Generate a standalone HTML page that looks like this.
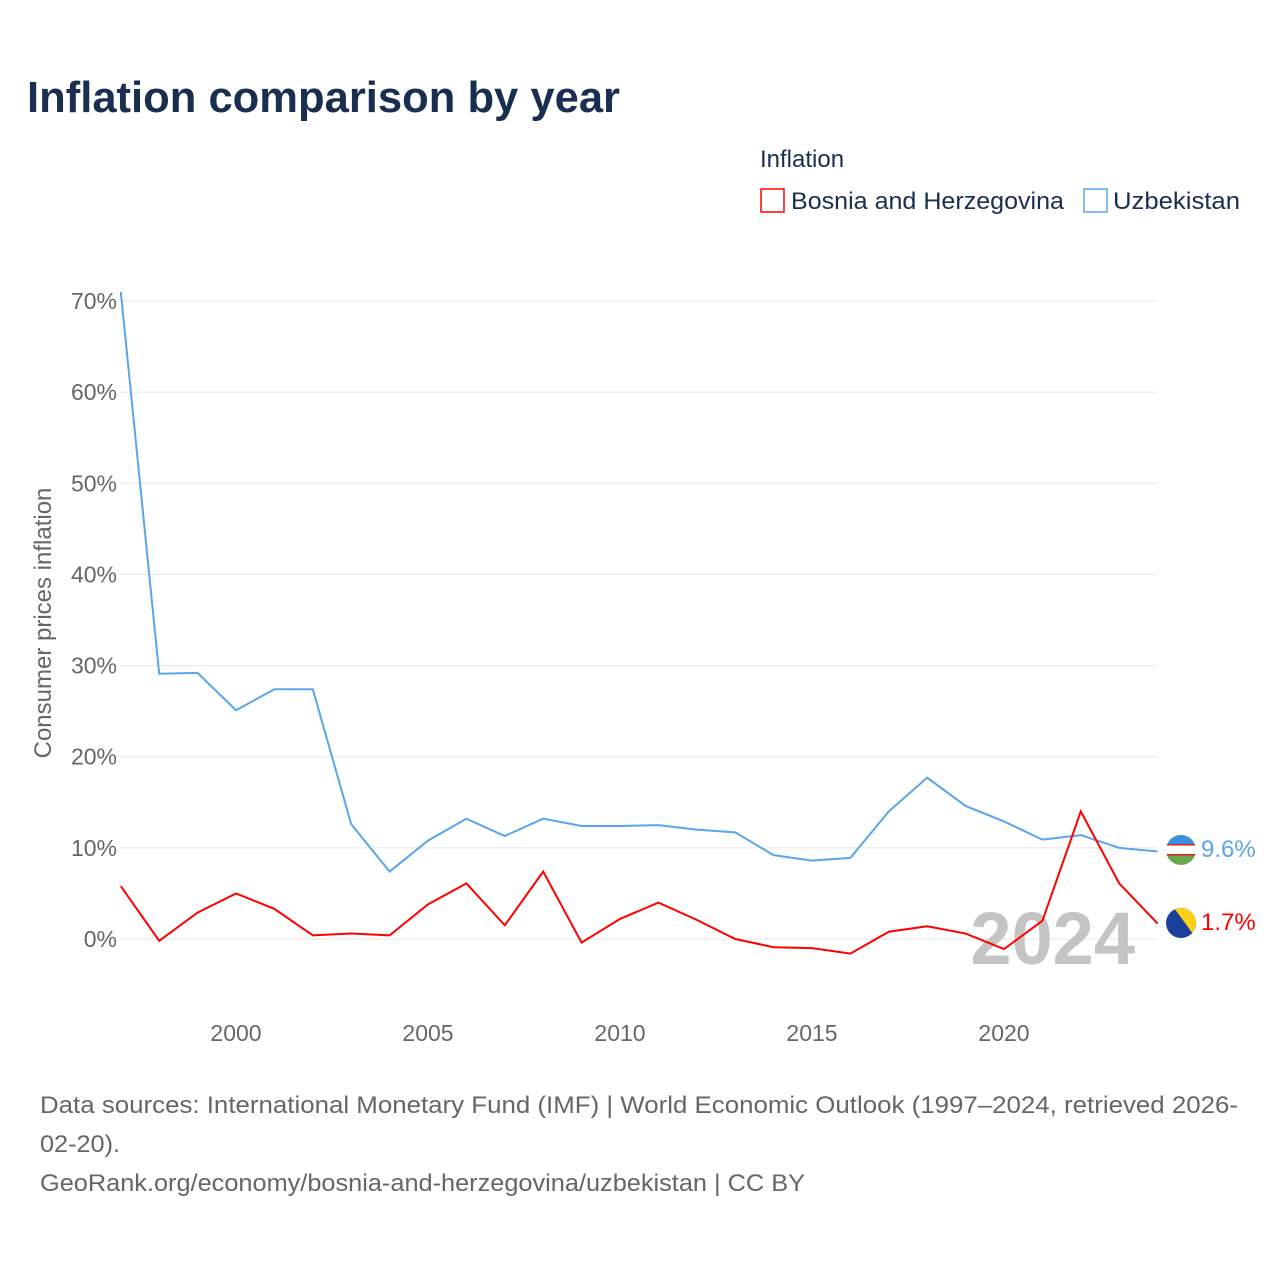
<!DOCTYPE html>
<html><head><meta charset="utf-8">
<style>
body{margin:0;background:#fff;font-family:"Liberation Sans",sans-serif;}
#wrap{position:relative;width:1280px;height:1280px;}
</style></head>
<body>
<div id="wrap">
<svg id="svg" width="1280" height="1280" xmlns="http://www.w3.org/2000/svg">
<text x="27" y="112" font-size="44" font-weight="bold" fill="#1a2e50" textLength="593" lengthAdjust="spacingAndGlyphs">Inflation comparison by year</text>
<text x="760" y="167" font-size="24" fill="#1a2e50">Inflation</text>
<g>
<rect x="761" y="189" width="23" height="23" fill="none" stroke="#ff0000" stroke-width="1.5"/>
<text x="791" y="209" font-size="24" fill="#1a2e50" textLength="273" lengthAdjust="spacingAndGlyphs">Bosnia and Herzegovina</text></g>
<g>
<rect x="1084" y="189" width="23" height="23" fill="none" stroke="#5aa5ec" stroke-width="1.5"/>
<text x="1113" y="209" font-size="24" fill="#1a2e50" textLength="127" lengthAdjust="spacingAndGlyphs">Uzbekistan</text></g>
<g id="grid"></g>
<g id="yticks"></g>
<g id="xticks"></g>
<text transform="translate(51,623) rotate(-90)" text-anchor="middle" font-size="24" fill="#666">Consumer prices inflation</text>
<text x="1135" y="964" text-anchor="end" font-size="74" font-weight="bold" fill="#c4c4c4">2024</text>
<g id="series"></g>
<defs><clipPath id="c1"><circle cx="1181" cy="850" r="15"/></clipPath><clipPath id="c2"><circle cx="1181" cy="923" r="15"/></clipPath></defs>
<g clip-path="url(#c1)">
<rect x="1166" y="835" width="30" height="10" fill="#3a8fde"/><rect x="1166" y="845" width="30" height="10" fill="#fff"/>
<rect x="1166" y="844" width="30" height="1.5" fill="#d22"/><rect x="1166" y="854" width="30" height="1.5" fill="#d22"/>
<rect x="1166" y="855.5" width="30" height="10" fill="#6aa84f"/></g>
<g clip-path="url(#c2)">
<rect x="1166" y="908" width="30" height="30" fill="#1b3f9a"/><polygon points="1174,908 1196,908 1196,938" fill="#fcd116"/></g>
<text x="1201" y="857" font-size="24" fill="#5aa5ec">9.6%</text>
<text x="1201" y="930" font-size="24" fill="#ff0000">1.7%</text>
<text x="40" y="1113" font-size="24" fill="#666" textLength="1198" lengthAdjust="spacingAndGlyphs">Data sources: International Monetary Fund (IMF) | World Economic Outlook (1997–2024, retrieved 2026-</text>
<text x="40" y="1152" font-size="24" fill="#666" textLength="80" lengthAdjust="spacingAndGlyphs">02-20).</text>
<text x="40" y="1191" font-size="24" fill="#666" textLength="765" lengthAdjust="spacingAndGlyphs">GeoRank.org/economy/bosnia-and-herzegovina/uzbekistan | CC BY</text>
</svg>
</div>
<script>
const years=[1997,1998,1999,2000,2001,2002,2003,2004,2005,2006,2007,2008,2009,2010,2011,2012,2013,2014,2015,2016,2017,2018,2019,2020,2021,2022,2023,2024];
const uzbekistan=[71.0,29.1,29.2,25.1,27.4,27.4,12.6,7.4,10.8,13.2,11.3,13.2,12.4,12.4,12.5,12.0,11.7,9.2,8.6,8.9,14.0,17.7,14.6,12.9,10.9,11.4,10.0,9.6];
const bosnia=[5.8,-0.2,2.9,5.0,3.3,0.4,0.6,0.4,3.8,6.1,1.5,7.4,-0.4,2.2,4.0,2.1,0.0,-0.9,-1.0,-1.6,0.8,1.4,0.6,-1.1,2.0,14.0,6.1,1.7];
const yTicks=[0,10,20,30,40,50,60,70];
const xTicks=[2000,2005,2010,2015,2020];
const NS="http://www.w3.org/2000/svg";
const x=v=>120.8+(v-1997)*38.4;
const y=v=>939-v*9.114;
const grid=document.getElementById('grid'),yt=document.getElementById('yticks'),xt=document.getElementById('xticks'),ser=document.getElementById('series');
yTicks.forEach(t=>{
 const l=document.createElementNS(NS,'line');
 l.setAttribute('x1',120);l.setAttribute('x2',1157);l.setAttribute('y1',y(t));l.setAttribute('y2',y(t));
 l.setAttribute('stroke','#e6e6e6');
 
 
 grid.appendChild(l);
 const tx=document.createElementNS(NS,'text');
 tx.setAttribute('x',117);tx.setAttribute('y',y(t)+8);tx.setAttribute('text-anchor','end');
 tx.setAttribute('font-size','23');tx.setAttribute('fill','#666');tx.textContent=t+'%';
 
 
 yt.appendChild(tx);
});
xTicks.forEach(t=>{
 const tx=document.createElementNS(NS,'text');
 tx.setAttribute('x',x(t));tx.setAttribute('y',1041);tx.setAttribute('text-anchor','middle');
 tx.setAttribute('font-size','23');tx.setAttribute('fill','#666');tx.textContent=t;
 
 
 xt.appendChild(tx);
});
function line(vals,color,name){
 const p=document.createElementNS(NS,'polyline');
 p.setAttribute('points',vals.map((v,i)=>x(years[i])+','+y(v)).join(' '));
 p.setAttribute('fill','none');p.setAttribute('stroke',color);p.setAttribute('stroke-width','2');
 
 
 ser.appendChild(p);
}
line(uzbekistan,'#5aa5ec','uzbekistan-line');
line(bosnia,'#ff0000','bosnia-line');
</script>
</body></html>
